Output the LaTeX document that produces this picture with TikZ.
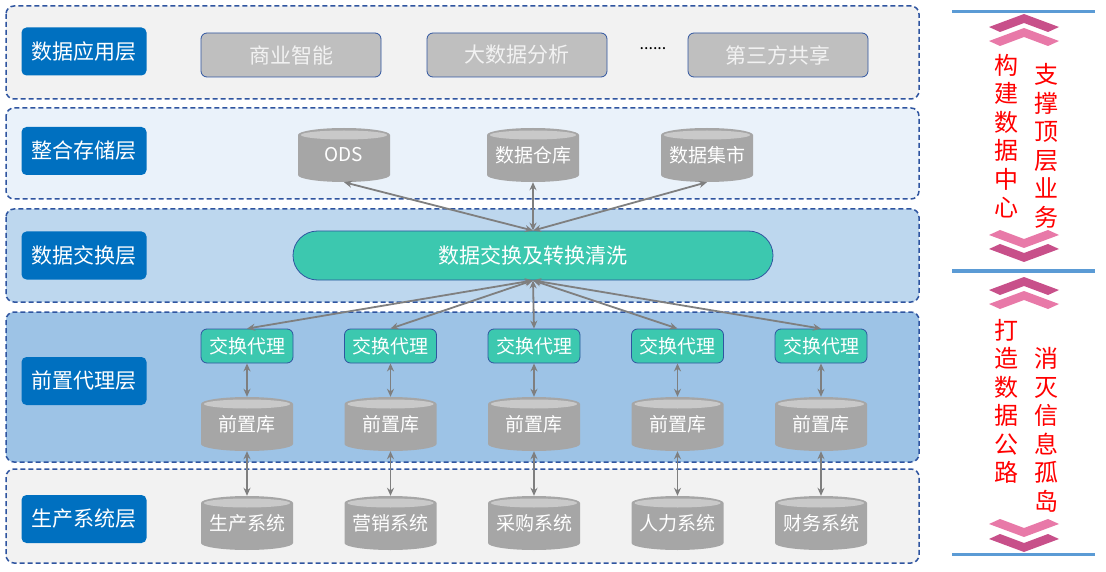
\documentclass[tikz,border=0pt]{standalone}
\usepackage{fontspec}
\setmainfont{Noto Sans CJK SC}
\usetikzlibrary{arrows.meta}
\definecolor{dashblue}{HTML}{2F55A0}
\definecolor{lblue}{HTML}{0070C0}
\definecolor{myteal}{HTML}{3CC8AF}
\definecolor{boxgray}{HTML}{BFBFBF}
\definecolor{cylgray}{HTML}{A6A6A6}
\definecolor{cyllight}{HTML}{C9C9C9}
\definecolor{arrgray}{HTML}{7F7F7F}
\definecolor{fillA}{HTML}{F2F2F2}
\definecolor{fillB}{HTML}{EAF2FA}
\definecolor{fillC}{HTML}{BDD7EE}
\definecolor{fillD}{HTML}{9DC3E6}
\definecolor{pinkdark}{HTML}{C8508A}
\definecolor{pinklight}{HTML}{E879A8}
\definecolor{lineblue}{HTML}{5B9BD5}
\tikzset{
  layerbox/.style={draw=dashblue, line width=1.5pt, dash pattern=on 5pt off 3pt, rounded corners=8pt},
  lbl/.style={fill=lblue, rounded corners=5pt, minimum width=125pt, minimum height=48pt, text=white, inner sep=0pt, font=\fontsize{21}{25}\selectfont},
  gbox/.style={fill=boxgray, draw=dashblue, line width=0.8pt, rounded corners=6pt, minimum width=180pt, minimum height=44pt, text=fillA, inner sep=0pt, font=\fontsize{21}{25}\selectfont},
  hubbox/.style={fill=myteal, draw=dashblue, line width=0.8pt, rounded corners=24.5pt, minimum width=480pt, minimum height=49pt, text=white, inner sep=0pt, font=\fontsize{21}{25}\selectfont},
  proxy/.style={fill=myteal, draw=dashblue, line width=0.8pt, rounded corners=6pt, minimum width=92pt, minimum height=34pt, text=white, inner sep=0pt, font=\fontsize{19}{23}\selectfont},
  cylnode/.style={minimum width=92pt, minimum height=54pt, inner sep=0pt, text=white, font=\fontsize{19}{23}\selectfont},
  cylbody/.style={fill=cylgray},
  cyltop/.style={fill=cyllight},
  biarrow/.style={draw=arrgray, line width=1.8pt, {Stealth[length=8pt,width=7pt]}-{Stealth[length=8pt,width=7pt]}},
  rtext/.style={text=red, align=center, inner sep=0pt, font=\fontsize{24}{28.5}\selectfont},
  sepline/.style={draw=lineblue, line width=3pt}
}
\newcommand{\mycyl}[4]{%
  \fill[cylbody] (#2-46,#3+20) -- (#2-46,#3-20) arc[start angle=180,end angle=360,x radius=46,y radius=7] -- (#2+46,#3+20) arc[start angle=0,end angle=180,x radius=46,y radius=7] -- cycle;
  \fill[cyltop] (#2,#3+20) ellipse[x radius=43, y radius=4.5];
  \node[cylnode] (#1) at (#2,#3) {\raisebox{-5pt}{#4}};
}
\newcommand{\chevup}[3]{%
  \fill[#3] (#1-35,#2-13) -- (#1,#2) -- (#1+35,#2-13) -- (#1+24,#2-18) -- (#1,#2-9) -- (#1-24,#2-18) -- cycle;}
\newcommand{\chevdown}[3]{%
  \fill[#3] (#1-35,#2+13) -- (#1,#2) -- (#1+35,#2+13) -- (#1+24,#2+18) -- (#1,#2+9) -- (#1-24,#2+18) -- cycle;}
\begin{document}
\begin{tikzpicture}[x=1pt,y=1pt]
\useasboundingbox (0,0) rectangle (1106,-572);
% layers
\draw[layerbox, fill=fillA] (6,-6) rectangle (919,-99);
\draw[layerbox, fill=fillB] (6,-108) rectangle (919,-199);
\draw[layerbox, fill=fillC] (6,-209) rectangle (919,-302);
\draw[layerbox, fill=fillD] (6,-312) rectangle (919,-462);
\draw[layerbox, fill=fillA] (6,-469) rectangle (919,-563);
% layer labels
\node[lbl] (L1) at (84,-51.5) {数据应用层};
\node[lbl] (L2) at (84,-151) {整合存储层};
\node[lbl] (L3) at (84,-255.5) {数据交换层};
\node[lbl] (L4) at (84,-381) {前置代理层};
\node[lbl] (L5) at (84,-519) {生产系统层};
% application layer
\node[gbox] (bi) at (291,-55) {商业智能};
\node[gbox] (bda) at (517,-55) {大数据分析};
\node[font=\fontsize{16}{18}\selectfont, inner sep=0pt] (dots) at (653,-49) {......};
\node[gbox] (share) at (778,-55) {第三方共享};
% storage layer
\mycyl{ods}{344}{-155}{ODS}
\mycyl{dw}{533}{-155}{数据仓库}
\mycyl{dm}{707}{-155}{数据集市}
% exchange
\node[hubbox] (hub) at (533,-255.5) {数据交换及转换清洗};
% proxies
\foreach \n/\x in {1/247,2/390.5,3/534,4/677.5,5/821}{
  \node[proxy] (p\n) at (\x,-346) {交换代理};
  \mycyl{q\n}{\x}{-424}{前置库}
}
\mycyl{s1}{247}{-523}{生产系统}
\mycyl{s2}{390.5}{-523}{营销系统}
\mycyl{s3}{534}{-523}{采购系统}
\mycyl{s4}{677.5}{-523}{人力系统}
\mycyl{s5}{821}{-523}{财务系统}
% connectors
\draw[biarrow] (hub.north) -- (ods.south);
\draw[biarrow] (hub.north) -- (dw.south);
\draw[biarrow] (hub.north) -- (dm.south);
\foreach \n in {1,...,5}{
  \draw[biarrow] (hub.south) -- (p\n.north);
  \draw[biarrow] (p\n.south) -- (q\n.north);
  \draw[biarrow] (q\n.south) -- (s\n.north);
}
% right panel
\draw[sepline] (952,-12) -- (1095,-12);
\draw[sepline] (952,-271) -- (1095,-271);
\draw[sepline] (952,-554) -- (1095,-554);
\chevup{1024}{-14}{pinkdark}
\chevup{1024}{-28}{pinklight}
\chevdown{1024}{-248}{pinklight}
\chevdown{1024}{-262}{pinkdark}
\chevup{1024}{-277}{pinkdark}
\chevup{1024}{-291}{pinklight}
\chevdown{1024}{-537}{pinklight}
\chevdown{1024}{-552}{pinkdark}
\node[rtext] (t1) at (1006,-136) {构\\建\\数\\据\\中\\心};
\node[rtext] (t2) at (1046,-146) {支\\撑\\顶\\层\\业\\务};
\node[rtext] (t3) at (1006,-401.5) {打\\造\\数\\据\\公\\路};
\node[rtext] (t4) at (1046,-430) {消\\灭\\信\\息\\孤\\岛};
\end{tikzpicture}
\end{document}
